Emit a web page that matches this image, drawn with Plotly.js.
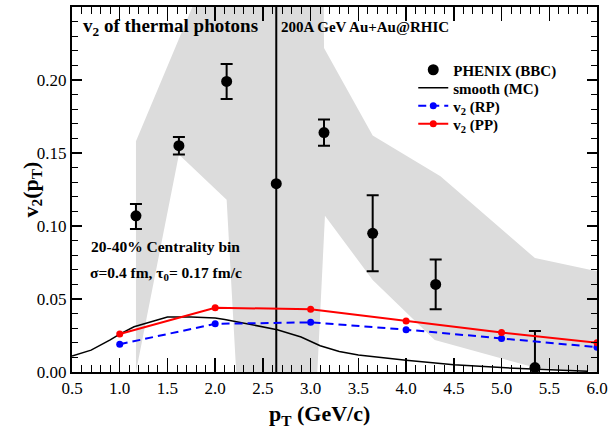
<!DOCTYPE html>
<html>
<head>
<meta charset="utf-8">
<script src="https://cdn.plot.ly/plotly-3.0.1.min.js"></script>
<style>html,body{margin:0;padding:0;background:#fff}#chart{width:609px;height:431px}</style>
</head>
<body>
<div id="chart"></div>
<script>
// PHENIX (BBC) data
const phenixX = [1.17, 1.62, 2.12, 2.64, 3.14, 3.65, 4.31, 5.35];
const phenixY = [0.107, 0.155, 0.199, 0.129, 0.164, 0.095, 0.060, 0.003];
const phenixErrPlus = [0.008, 0.006, 0.012, 0.16, 0.009, 0.026, 0.017, 0.025];
const phenixErrMinus = [0.009, 0.006, 0.012, 0.14, 0.009, 0.026, 0.017, 0.006];

// smooth (MC)
const mcX = [0.5, 0.7, 0.9, 1.0, 1.15, 1.3, 1.5, 1.75, 2.0, 2.1, 2.4, 2.65, 2.9, 3.1, 3.3, 3.5, 4.0, 4.5, 5.0, 5.5, 5.9];
const mcY = [0.011, 0.015, 0.022, 0.026, 0.031, 0.034, 0.0377, 0.0377, 0.037, 0.036, 0.032, 0.029, 0.024, 0.018, 0.014, 0.0116, 0.008, 0.005, 0.003, 0.0015, 0.0005];

// v2 (RP) and v2 (PP)
const calcX = [1.0, 2.0, 3.0, 4.0, 5.0, 6.0];
const rpY = [0.019, 0.033, 0.034, 0.029, 0.023, 0.017];
const ppY = [0.026, 0.044, 0.043, 0.035, 0.027, 0.020];

// gray band (polygon outline)
const bandX = [1.17, 1.62, 2.12, 2.64, 3.13, 3.14, 3.65, 4.36, 5.35, 6.0, 6.0, 5.35, 4.3, 3.65, 3.15, 3.07, 2.22, 2.12, 1.62, 1.17, 1.17];
const bandY = [0.158, 0.229, 0.306, 0.35, 0.35, 0.222, 0.162, 0.134, 0.078, 0.069, 0.0, 0.003, 0.022, 0.063, 0.107, 0.0, 0.0, 0.118, 0.149, 0.0, 0.158];

const xTicks = [0.5, 1.0, 1.5, 2.0, 2.5, 3.0, 3.5, 4.0, 4.5, 5.0, 5.5, 6.0];
const yTicks = [0.00, 0.05, 0.10, 0.15, 0.20, 0.25];

const serif = "Liberation Serif";

const traces = [
  {x: bandX, y: bandY, mode: 'lines', fill: 'toself', fillcolor: 'rgb(220,220,220)',
   line: {width: 0, color: 'rgba(0,0,0,0)'}, hoverinfo: 'skip', showlegend: false},
  {x: phenixX, y: phenixY, name: 'PHENIX (BBC)', mode: 'markers', type: 'scatter', legend: 'legend',
   marker: {color: 'black', size: 11},
   error_y: {type: 'data', symmetric: false, array: phenixErrPlus, arrayminus: phenixErrMinus,
             color: 'black', thickness: 2, width: 6}},
  {x: mcX, y: mcY, name: 'smooth (MC)', mode: 'lines', legend: 'legend2', line: {color: 'black', width: 1.5}},
  {x: calcX, y: rpY, name: 'v<sub>2</sub> (RP)', mode: 'lines+markers', legend: 'legend3',
   line: {color: 'blue', width: 2, dash: '8px,5px'}, marker: {color: 'blue', size: 7}},
  {x: calcX, y: ppY, name: 'v<sub>2</sub> (PP)', mode: 'lines+markers', legend: 'legend4',
   line: {color: 'red', width: 2}, marker: {color: 'red', size: 7}}
];

const axisCommon = {
  showgrid: false, zeroline: false, showline: true, linecolor: 'black', linewidth: 2,
  mirror: 'ticks', ticks: 'inside', tickcolor: 'black', tickwidth: 1.5,
  tickfont: {family: serif, size: 17, color: 'black'}
};

function leg(py) {
  return {x: 0.65, y: 1 - (py - 7) / 365, xanchor: 'left', yanchor: 'middle', bgcolor: 'rgba(0,0,0,0)',
          font: {family: serif, size: 15, color: 'black', weight: 'bold'}, itemwidth: 30};
}

const layout = {
  width: 609, height: 431,
  margin: {l: 72, r: 12, t: 7, b: 59},
  paper_bgcolor: 'white', plot_bgcolor: 'white',
  showlegend: true,
  legend: leg(70), legend2: leg(88), legend3: leg(106), legend4: leg(124),
  xaxis: Object.assign({}, axisCommon, {
    range: [0.5, 6.0], tickvals: xTicks, ticktext: xTicks.map(v => v.toFixed(1)),
    ticklen: 14,
    minor: {dtick: 0.1, ticklen: 7, tickcolor: 'black', tickwidth: 1, ticks: 'inside'}
  }),
  yaxis: Object.assign({}, axisCommon, {
    range: [0, 0.25], tickvals: yTicks, ticktext: yTicks.map(v => v.toFixed(2)),
    ticklen: 10,
    minor: {dtick: 0.01, ticklen: 6, tickcolor: 'black', tickwidth: 1, ticks: 'inside'}
  }),
  annotations: [
    {xref: 'paper', yref: 'paper', x: 0.472, y: -0.118, xanchor: 'center', yanchor: 'middle', showarrow: false,
     text: '<b>p<sub>T</sub> (GeV/c)</b>', font: {family: serif, size: 22, color: 'black'}},
    {xref: 'paper', yref: 'paper', x: -0.078, y: 0.5, xanchor: 'center', yanchor: 'middle', showarrow: false,
     textangle: -90, text: '<b>v<sub>2</sub>(p<sub>T</sub>)</b>', font: {family: serif, size: 22, color: 'black'}},
    {xref: 'paper', yref: 'paper', x: 0.018, y: 0.945, xanchor: 'left', yanchor: 'middle', showarrow: false,
     text: '<b>v<sub>2</sub> of thermal photons</b>', font: {family: serif, size: 19, color: 'black'}},
    {xref: 'paper', yref: 'paper', x: 0.395, y: 0.945, xanchor: 'left', yanchor: 'middle', showarrow: false,
     text: '<b>200A GeV Au+Au@RHIC</b>', font: {family: serif, size: 15, color: 'black'}},
    {xref: 'paper', yref: 'paper', x: 0.033, y: 0.343, xanchor: 'left', yanchor: 'middle', showarrow: false,
     text: '<b>20-40% Centrality bin</b>', font: {family: serif, size: 15.5, color: 'black'}},
    {xref: 'paper', yref: 'paper', x: 0.03, y: 0.27, xanchor: 'left', yanchor: 'middle', showarrow: false,
     text: '<b>σ=0.4 fm, τ<sub>0</sub>= 0.17 fm/c</b>', font: {family: serif, size: 15.5, color: 'black'}}
  ]
};

Plotly.newPlot('chart', traces, layout, {displayModeBar: false, staticPlot: true});
</script>
</body>
</html>
